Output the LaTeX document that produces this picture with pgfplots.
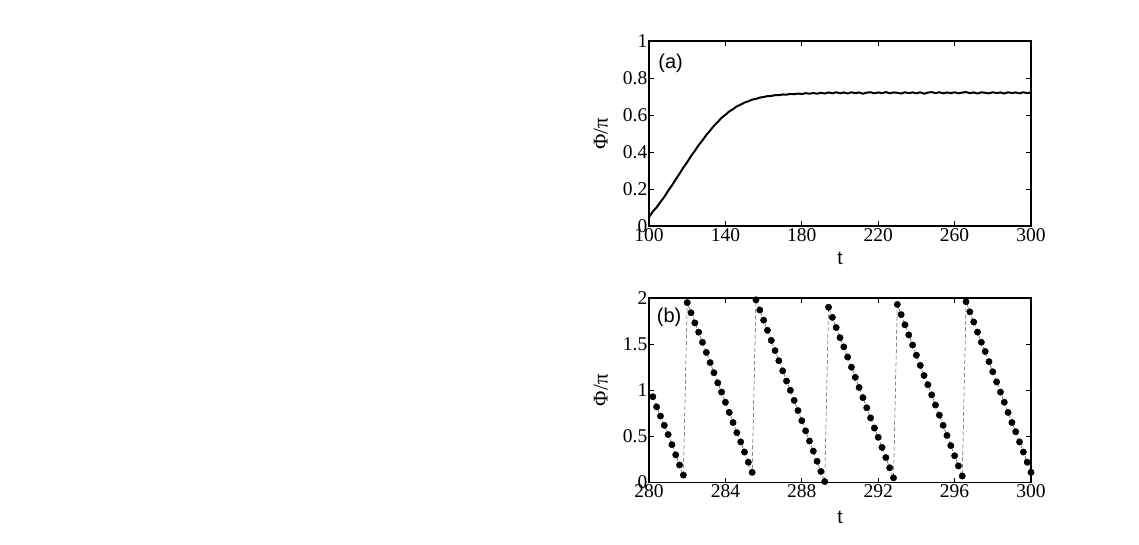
\documentclass[border=0pt]{standalone}
\usepackage{fontspec}
\setmainfont{Liberation Serif}
\newfontfamily\sansf{Liberation Sans}
\usepackage{pgfplots}
\usepackage{pgfplotstable}
\pgfplotsset{compat=1.18}

\pgfplotstableread{
t phi
100 0.048
102 0.078
104 0.101
106 0.130
108 0.157
110 0.190
112 0.219
114 0.252
116 0.283
118 0.316
120 0.345
122 0.378
124 0.406
126 0.437
128 0.463
130 0.492
132 0.516
134 0.542
136 0.562
138 0.585
140 0.601
142 0.619
144 0.632
146 0.647
148 0.656
150 0.667
152 0.674
154 0.683
156 0.687
158 0.694
160 0.697
162 0.702
164 0.703
166 0.707
168 0.707
170 0.711
172 0.710
174 0.714
176 0.712
178 0.716
180 0.713
182 0.718
184 0.715
186 0.719
188 0.715
190 0.720
192 0.716
194 0.722
196 0.717
198 0.723
200 0.717
202 0.722
204 0.716
206 0.723
208 0.718
210 0.722
212 0.715
214 0.721
216 0.723
218 0.717
220 0.722
222 0.718
224 0.724
226 0.717
228 0.722
230 0.720
232 0.716
234 0.723
236 0.718
238 0.722
240 0.717
242 0.723
244 0.715
246 0.721
248 0.724
250 0.718
252 0.723
254 0.717
256 0.722
258 0.718
260 0.723
262 0.717
264 0.721
266 0.724
268 0.718
270 0.722
272 0.716
274 0.723
276 0.720
278 0.717
280 0.723
282 0.718
284 0.722
286 0.716
288 0.723
290 0.718
292 0.722
294 0.717
296 0.723
298 0.718
300 0.721
}\dataA

\pgfplotstableread{
t phi
280.2 0.93
280.4 0.82
280.6 0.72
280.8 0.62
281.0 0.52
281.2 0.41
281.4 0.30
281.6 0.19
281.8 0.08
282.0 1.95
282.2 1.84
282.4 1.73
282.6 1.63
282.8 1.52
283.0 1.41
283.2 1.30
283.4 1.19
283.6 1.08
283.8 0.98
284.0 0.87
284.2 0.76
284.4 0.65
284.6 0.54
284.8 0.44
285.0 0.33
285.2 0.22
285.4 0.11
285.6 1.98
285.8 1.87
286.0 1.76
286.2 1.65
286.4 1.54
286.6 1.43
286.8 1.32
287.0 1.21
287.2 1.10
287.4 1.00
287.6 0.89
287.8 0.78
288.0 0.67
288.2 0.56
288.4 0.45
288.6 0.34
288.8 0.23
289.0 0.12
289.2 0.01
289.4 1.90
289.6 1.79
289.8 1.68
290.0 1.57
290.2 1.47
290.4 1.36
290.6 1.25
290.8 1.14
291.0 1.03
291.2 0.92
291.4 0.81
291.6 0.70
291.8 0.59
292.0 0.49
292.2 0.38
292.4 0.27
292.6 0.16
292.8 0.05
293.0 1.93
293.2 1.82
293.4 1.71
293.6 1.60
293.8 1.49
294.0 1.38
294.2 1.27
294.4 1.16
294.6 1.06
294.8 0.95
295.0 0.84
295.2 0.73
295.4 0.62
295.6 0.51
295.8 0.40
296.0 0.29
296.2 0.18
296.4 0.07
296.6 1.96
296.8 1.85
297.0 1.74
297.2 1.63
297.4 1.52
297.6 1.42
297.8 1.31
298.0 1.20
298.2 1.09
298.4 0.98
298.6 0.87
298.8 0.76
299.0 0.65
299.2 0.55
299.4 0.44
299.6 0.33
299.8 0.22
300.0 0.11
}\dataB

\begin{document}
\begin{tikzpicture}
\useasboundingbox (0pt,0pt) rectangle (1139pt,544pt);
\pgfplotsset{
  myax/.style={
    scale only axis, width=382pt, anchor=south west,
    axis line style={line width=1.1pt},
    every tick/.style={black, line width=0.9pt},
    major tick length=5pt, tick align=inside,
    /pgf/number format/assume math mode=true,
    tick label style={font=\fontsize{19.5}{21}\selectfont},
    yticklabel style={inner sep=1.5pt},
    xticklabel style={inner sep=2pt},
    ylabel style={font=\fontsize{21}{23}\selectfont, anchor=center},
    xlabel style={font=\sansf\fontsize{19}{21}\selectfont, anchor=center},
  }
}
\begin{axis}[myax, at={(649pt,318pt)}, height=185pt,
  xmin=100, xmax=300, ymin=0, ymax=1,
  xtick={100,140,180,220,260,300},
  ytick={0,0.2,0.4,0.6,0.8,1},
  xlabel={t}, ylabel={Φ/π},
  xlabel style={at={(axis description cs:0.5,-0.178)}},
  ylabel style={at={(axis description cs:-0.126,0.5)}},
]
\addplot[black, line width=2pt, line join=round] table[x=t,y=phi] {\dataA};
\node[font=\sansf\fontsize{20}{22}\selectfont, anchor=west, inner sep=0pt] at (rel axis cs:0.024,0.878) {(a)};
\end{axis}

\begin{axis}[myax, at={(649pt,61.5pt)}, height=184.5pt,
  xmin=280, xmax=300, ymin=0, ymax=2,
  xtick={280,284,288,292,296,300},
  ytick={0,0.5,1,1.5,2},
  xlabel={t}, ylabel={Φ/π},
  xlabel style={at={(axis description cs:0.5,-0.192)}},
  ylabel style={at={(axis description cs:-0.126,0.5)}},
]
\addplot[black!70, line width=0.5pt, dash pattern=on 4pt off 2.5pt] table[x=t,y=phi] {\dataB};
\addplot[only marks, mark=*, mark size=3.2pt, black] table[x=t,y=phi] {\dataB};
\node[font=\sansf\fontsize{20}{22}\selectfont, anchor=west, inner sep=0pt] at (rel axis cs:0.02,0.894) {(b)};
\end{axis}
\end{tikzpicture}
\end{document}
